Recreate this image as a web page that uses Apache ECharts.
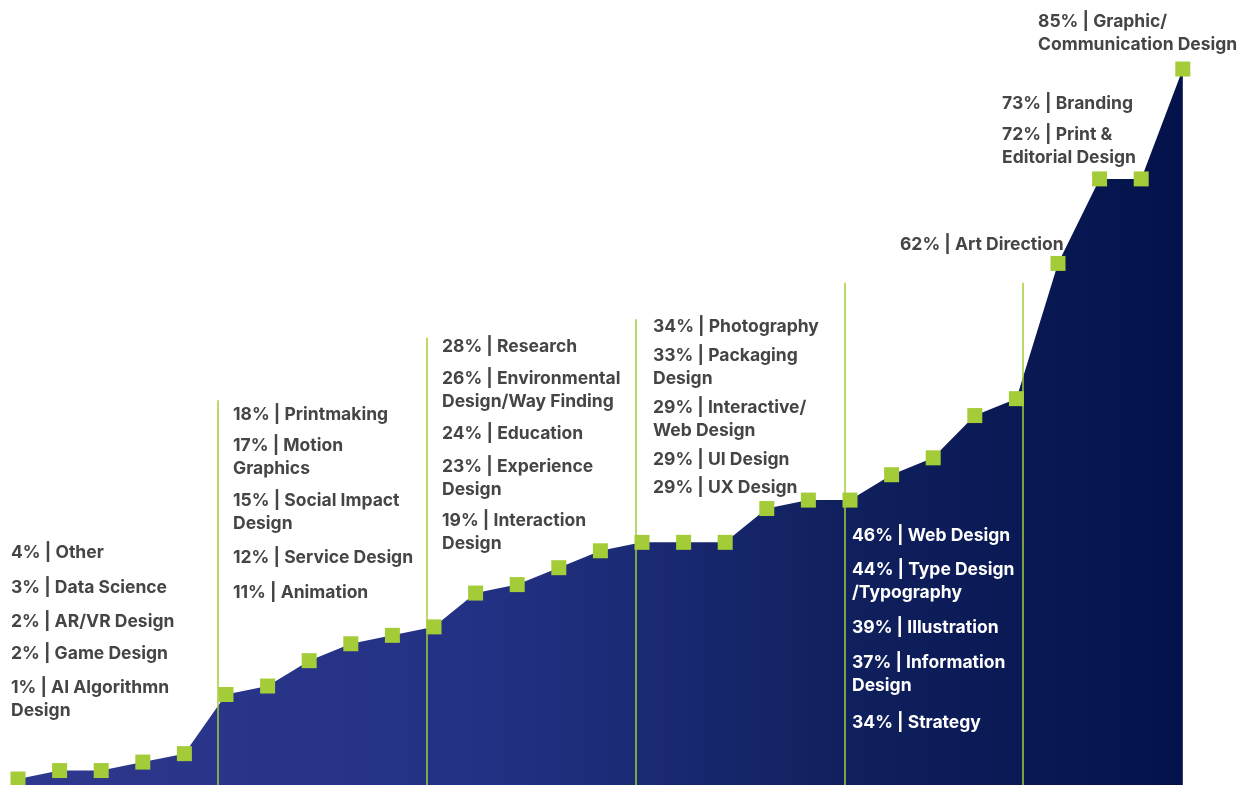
<!DOCTYPE html>
<html>
<head>
<meta charset="utf-8">
<style>
  html, body { margin: 0; padding: 0; background: #fff; }
  #chart { width: 1249px; height: 785px; }
</style>
<script src="https://cdn.jsdelivr.net/npm/echarts@6/dist/echarts.min.js"></script>
</head>
<body>
<div id="chart"></div>
<script>
// categories, left to right
var categories = [
  'AI Algorithmn\nDesign', 'Game Design', 'AR/VR Design', 'Data Science', 'Other',
  'Animation', 'Service Design', 'Social Impact\nDesign', 'Motion\nGraphics', 'Printmaking',
  'Interaction\nDesign', 'Experience\nDesign', 'Education', 'Environmental\nDesign/Way Finding', 'Research',
  'UX Design', 'UI Design', 'Interactive/\nWeb Design', 'Packaging\nDesign', 'Photography',
  'Strategy', 'Information\nDesign', 'Illustration', 'Type Design\n/Typography', 'Web Design',
  'Art Direction', 'Print &\nEditorial Design', 'Branding', 'Graphic/\nCommunication Design'
];
// percentage shown in the labels
var shares = [1, 2, 2, 3, 4, 11, 12, 15, 17, 18, 19, 23, 24, 26, 28, 29, 29, 29, 33, 34,
  34, 37, 39, 44, 46, 62, 72, 73, 85];
// height of each marker as drawn (branding sits level with print)
var levels = [1, 2, 2, 3, 4, 11, 12, 15, 17, 18, 19, 23, 24, 26, 28, 29, 29, 29, 33, 34,
  34, 37, 39, 44, 46, 62, 72, 72, 85];
// green dividers between the groups: x position (category units) and top value
var dividerX = [4.8, 9.83, 14.86, 19.88, 24.16];
var dividerTop = [45.8, 53.2, 55.4, 59.7, 59.7];

// label layout: category index, left, centre of first line, white or not
var labelPos = [
  [4, 11, 551], [3, 11, 586], [2, 11, 620], [1, 11, 652], [0, 11, 686],
  [9, 233, 413], [8, 233, 444], [7, 233, 499], [6, 233, 556], [5, 233, 591],
  [14, 442, 345], [13, 442, 377], [12, 442, 432], [11, 442, 465], [10, 442, 519],
  [19, 653, 325], [18, 653, 354], [17, 653, 406], [16, 653, 458], [15, 653, 486],
  [24, 852, 534, 1], [23, 852, 568, 1], [22, 852, 626, 1], [21, 852, 661, 1], [20, 852, 721, 1],
  [25, 900, 243], [27, 1002, 102], [26, 1002, 133], [28, 1038, 20]
];

var chart = echarts.init(document.getElementById('chart'));

var yMin = (787.45 - 785) / 8.452;

var points = [];
for (var i = 0; i < levels.length; i++) {
  points.push([i, levels[i]]);
}

var dividers = [];
for (var j = 0; j < dividerX.length; j++) {
  dividers.push([{ coord: [dividerX[j], yMin] }, { coord: [dividerX[j], dividerTop[j]] }]);
}

var LH = 23;
var texts = [];
labelPos.forEach(function (p) {
  texts.push({
    type: 'text',
    left: p[1],
    top: p[2] - LH / 2 + 1.5,
    z: 100,
    style: {
      text: shares[p[0]] + '% | ' + categories[p[0]],
      fill: p[3] ? '#ffffff' : '#454545',
      font: 'bold 17.5px Inter',
      lineHeight: LH
    }
  });
});

var option = {
  backgroundColor: '#fff',
  animation: false,
  grid: { left: 0, right: 0, top: 0, bottom: 0 },
  xAxis: {
    type: 'value',
    min: -18 / 41.6,
    max: -18 / 41.6 + 1249 / 41.6,
    show: false
  },
  yAxis: {
    type: 'value',
    min: yMin,
    max: 787.45 / 8.452,
    show: false
  },
  series: [
    {
      type: 'line',
      data: points,
      symbol: 'rect',
      symbolSize: 15,
      lineStyle: { width: 0 },
      itemStyle: { color: '#a3cc38' },
      areaStyle: {
        origin: 'start',
        opacity: 1,
        color: new echarts.graphic.LinearGradient(0, 0, 1, 0, [
          { offset: 0, color: '#2e388e' },
          { offset: 0.4, color: '#233184' },
          { offset: 0.7, color: '#11215f' },
          { offset: 1, color: '#03124a' }
        ])
      },
      markLine: {
        silent: true,
        symbol: 'none',
        label: { show: false },
        lineStyle: { color: '#a3cc38', width: 1.5, type: 'solid' },
        data: dividers
      },
      z: 2
    }
  ],
  graphic: texts
};

chart.setOption(option);
</script>
</body>
</html>
